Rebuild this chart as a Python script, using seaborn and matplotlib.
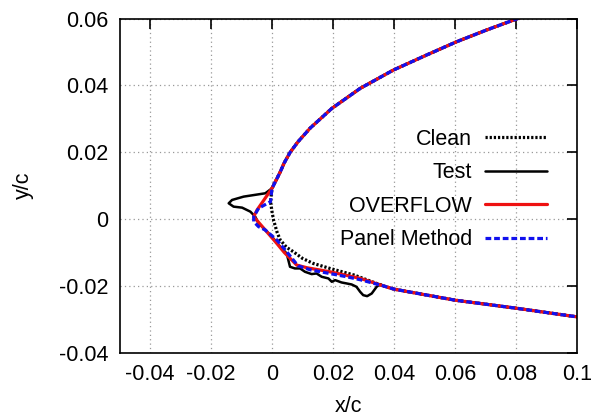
import matplotlib
matplotlib.use("Agg")
import matplotlib.pyplot as plt
import seaborn as sns
import pandas as pd

# ---- data (x/c, y/c) ----
upper_x = [0.0835, 0.0704, 0.0606, 0.0507, 0.0398, 0.0289, 0.0196, 0.0125, 0.0085, 0.0059, 0.0040, 0.0026, 0.0]
upper_y = [0.0610, 0.0566, 0.0531, 0.0491, 0.0446, 0.0391, 0.0331, 0.0272, 0.0231, 0.0199, 0.0168, 0.0139, 0.0092]

lower_x = [0.0364, 0.04, 0.06, 0.08, 0.1]
lower_y = [-0.0200, -0.0210, -0.0243, -0.0267, -0.0293]

clean_nose_x = [-0.0005, 0.0, 0.0005, 0.0016, 0.0027, 0.0048, 0.007, 0.0100, 0.0135, 0.019, 0.027]
clean_nose_y = [0.0052, 0.0022, -0.0003, -0.0038, -0.0063, -0.0085, -0.0098, -0.0118, -0.0133, -0.0148, -0.0168]

test_nose_x = [-0.0022, -0.0093, -0.0131, -0.0142, -0.0126, -0.0098, -0.0071, -0.0055, -0.0044, -0.0027,
               0.0, 0.0022, 0.0048, 0.0059, 0.0075, 0.0092, 0.0108, 0.013, 0.0146, 0.0163, 0.0185,
               0.0196, 0.0207, 0.0228, 0.0245, 0.0261, 0.0277, 0.0289, 0.0299, 0.0312, 0.0327, 0.0343, 0.0354]
test_nose_y = [0.0077, 0.0067, 0.0057, 0.0047, 0.0037, 0.0034, 0.0022, 0.0007, -0.0013, -0.0028,
               -0.0053, -0.0078, -0.0103, -0.0143, -0.0148, -0.0148, -0.0158, -0.0165, -0.0163, -0.0173, -0.0178,
               -0.0188, -0.0183, -0.0190, -0.0193, -0.0196, -0.0203, -0.0218, -0.0228, -0.0231, -0.0223, -0.0203, -0.0195]

overflow_nose_x = [-0.0049, -0.0060, -0.0025, 0.0011, 0.0040, 0.0081, 0.0115, 0.019, 0.029]
overflow_nose_y = [0.0027, 0.0007, -0.0030, -0.0068, -0.0100, -0.0138, -0.0146, -0.0158, -0.0178]

panel_nose_x = [-0.0005, -0.0044, -0.0060, -0.0060, -0.0044, -0.0022, 0.0016, 0.0050, 0.0085, 0.0125, 0.0245, 0.029]
panel_nose_y = [0.0052, 0.0032, 0.0007, -0.0008, -0.0023, -0.0033, -0.0063, -0.0100, -0.0140, -0.0152, -0.0173, -0.0182]

series_names = ["Clean", "Test", "OVERFLOW", "Panel Method"]
x_ticks = [-0.04, -0.02, 0, 0.02, 0.04, 0.06, 0.08, 0.1]
y_ticks = [-0.04, -0.02, 0, 0.02, 0.04, 0.06]


def tick_fmt(v):
    s = f"{v:.2f}".rstrip("0").rstrip(".")
    return "0" if s in ("0", "-0") else s


def curve(nx, ny):
    return pd.DataFrame({"x": upper_x + nx + lower_x, "y": upper_y + ny + lower_y})


sns.set_theme(style="white")
plt.rcParams["font.family"] = ["Liberation Sans", "DejaVu Sans"]
plt.rcParams["text.color"] = "black"
plt.rcParams["axes.labelcolor"] = "black"
plt.rcParams["xtick.color"] = "black"
plt.rcParams["ytick.color"] = "black"
FS = 15.5

fig = plt.figure(figsize=(5.97, 4.16), dpi=100)
ax = fig.add_axes([0.2002, 0.1524, 0.7663, 0.8029])

styles = [
    dict(color="black", lw=2.3, dashes=(0.7, 0.6), solid_capstyle="butt", dash_capstyle="butt"),
    dict(color="black", lw=1.8),
    dict(color="#ee1111", lw=2.3),
    dict(color="#1111ee", lw=2.3, dashes=(1.8, 0.9), dash_capstyle="butt"),
]
data = [
    curve(clean_nose_x, clean_nose_y),
    curve(test_nose_x, test_nose_y),
    curve(overflow_nose_x, overflow_nose_y),
    curve(panel_nose_x, panel_nose_y),
]
for name, df, st in zip(series_names, data, styles):
    st = dict(st)
    dashes = st.pop("dashes", None)
    sns.lineplot(data=df, x="x", y="y", sort=False, estimator=None, ax=ax,
                 label=name, **st)
    ln = ax.lines[-1]
    if dashes is not None:
        ln.set_dashes(dashes)

ax.set_xlim(-0.05, 0.1)
ax.set_ylim(-0.04, 0.06)
ax.set_xticks(x_ticks)
ax.set_yticks(y_ticks)
ax.set_xticklabels([tick_fmt(v) for v in x_ticks])
ax.set_yticklabels([tick_fmt(v) for v in y_ticks])
ax.tick_params(direction="in", top=True, right=True, length=7, width=1.2,
               labelsize=FS, pad=8, colors="black", labelcolor="black")
ax.grid(True, color="#999999", linestyle=(0, (1, 2.5)), linewidth=0.9)
for sp in ax.spines.values():
    sp.set_color("black")
    sp.set_linewidth(1.2)

ax.set_xlabel("x/c", fontsize=FS, labelpad=8, color="black")
ax.set_ylabel("y/c", fontsize=FS, labelpad=18, color="black")

leg = ax.legend(loc="upper right", bbox_to_anchor=(0.935, 0.67), frameon=False,
                markerfirst=False, fontsize=FS, handlelength=2.9, handletextpad=0.6,
                labelspacing=0.58, borderaxespad=0, borderpad=0, labelcolor="black")

fig.savefig("out.png", dpi=100)
